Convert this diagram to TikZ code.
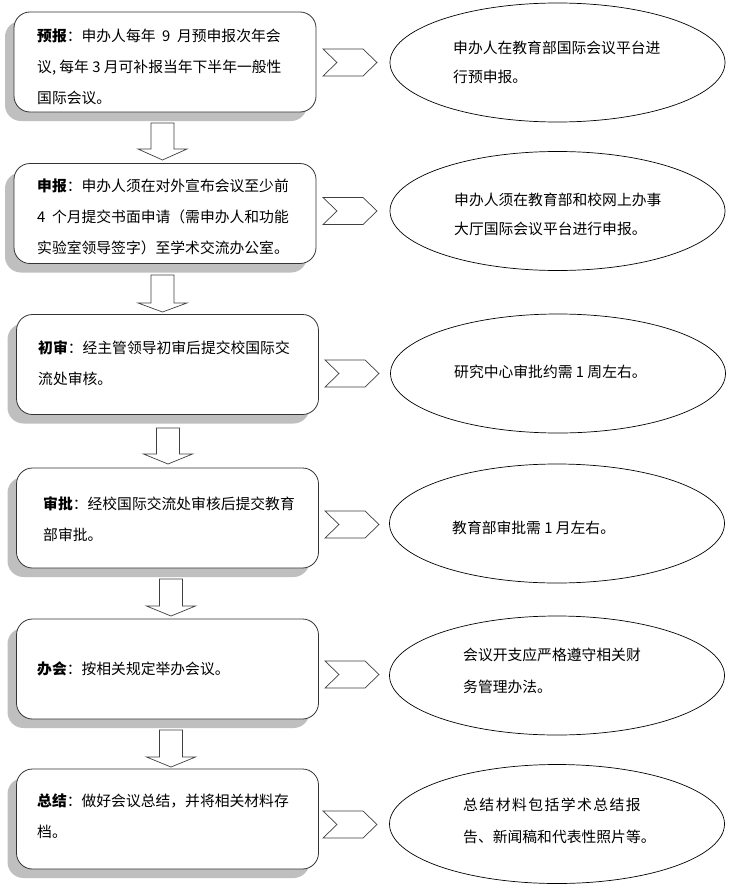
\documentclass[tikz,border=0pt]{standalone}
\usepackage{fontspec}
\setmainfont{Noto Sans CJK SC}
\usetikzlibrary{shadows,shapes.geometric}
\newcommand\mychev[3]{% name, x, midy
  \coordinate (#1) at (#2,#3);
  \draw[chev] ($(#1)+(0,-13.5)$) -- ++(40,0) -- ++(14,13.5) -- ++(-14,13.5) -- ++(-40,0) -- ++(14,-13.5) -- cycle;}
\newcommand\mydarrow[5]{% name, cx, top, headbase, tip
  \coordinate (#1) at (#2,#3);
  \draw[blk] ($(#1)+(-11.5,0)$) -- ++(23,0) -- ++(0,#4-#3) -- ++(13,0) -- ($(#1)+(0,#5-#3)$) -- ($(#1)+(-24.5,#4-#3)$) -- ++(13,0) -- cycle;}
\usetikzlibrary{calc}
\begin{document}
\begin{tikzpicture}[x=1pt,y=-1pt,
  box/.style={draw=black!80, line width=0.8pt, fill=white, rounded corners=16pt,
    minimum width=302pt, minimum height=100pt, inner sep=0pt,
    drop shadow={shadow xshift=-9pt, shadow yshift=-9pt, fill=black!25, opacity=1}},
  txt/.style={anchor=west, align=left, inner sep=0pt, font=\fontsize{14.8}{31}\selectfont},
  oval/.style={draw=black, line width=0.7pt, ellipse, minimum width=335pt, minimum height=119pt, inner sep=0pt},
  otxt/.style={anchor=west, align=left, inner sep=0pt, font=\fontsize{14.8}{29}\selectfont},
  blk/.style={draw=black!75, line width=0.7pt, fill=white, line join=miter},
  chev/.style={draw=black!75, line width=0.7pt, fill=white, line join=miter}]
\fill[white] (0,0) rectangle (740,891);
\useasboundingbox (0,0) rectangle (740,891);

% left boxes
\node[box] (b1) at (165,62) {};
\node[box] (b2) at (165,213.5) {};
\node[box] (b3) at (167.5,364.5) {};
\node[box] (b4) at (167.5,518) {};
\node[box] (b5) at (167.5,669) {};
\node[box] (b6) at (167.5,819) {};

\node[txt] (t1) at (37,66.5) {\textbf{预报}：申办人每年~~9~~月预申报次年会\\议, 每年 3 月可补报当年下半年一般性\\国际会议。};
\node[txt] (t2) at (37,217) {\textbf{申报}：申办人须在对外宣布会议至少前\\4~~个月提交书面申请（需申办人和功能\\实验室领导签字）至学术交流办公室。};
\node[txt] (t3) at (38,363.5) {\textbf{初审}：经主管领导初审后提交校国际交\\流处审核。};
\node[txt] (t4) at (43,519) {\textbf{审批}：经校国际交流处审核后提交教育\\部审批。};
\node[txt] (t5) at (37,669) {\textbf{办会}：按相关规定举办会议。};
\node[txt] (t6) at (37,816) {\textbf{总结}：做好会议总结，并将相关材料存\\档。};

% down block arrows
\mydarrow{a1}{162.5}{123}{149}{160}
\mydarrow{a2}{162.5}{275}{303}{312}
\mydarrow{a3}{168}{428}{454}{464}
\mydarrow{a4}{171}{579}{606}{616}
\mydarrow{a5}{171}{730}{757}{767}

% chevrons
\mychev{c1}{323}{62.5}
\mychev{c2}{323}{211}
\mychev{c3}{325}{373.5}
\mychev{c4}{325}{524.5}
\mychev{c5}{325}{674.5}
\mychev{c6}{323}{824.5}

% ellipses
\node[oval] (e1) at (557.5,62.5) {};
\node[oval] (e2) at (557.5,211) {};
\node[oval] (e3) at (558,373.5) {};
\node[oval] (e4) at (557,523.5) {};
\node[oval] (e5) at (557,675.5) {};
\node[oval] (e6) at (557,824) {};

\node[otxt] (s1) at (453,62.5) {申办人在教育部国际会议平台进\\行预申报。};
\node[otxt] (s2) at (454,214.5) {申办人须在教育部和校网上办事\\大厅国际会议平台进行申报。};
\node[otxt] (s3) at (454,372) {研究中心审批约需 1 周左右。};
\node[otxt] (s4) at (452,528) {教育部审批需 1 月左右。};
\node[otxt, font=\fontsize{14.8}{32}\selectfont] (s5) at (463,671) {会议开支应严格遵守相关财\\务管理办法。};
\node[otxt, font=\fontsize{14.8}{32}\selectfont] (s6) at (463,821) {{\addfontfeature{LetterSpace=10}总结材料包括学术总结报}\\告、新闻稿和代表性照片等。};
\end{tikzpicture}
\end{document}
